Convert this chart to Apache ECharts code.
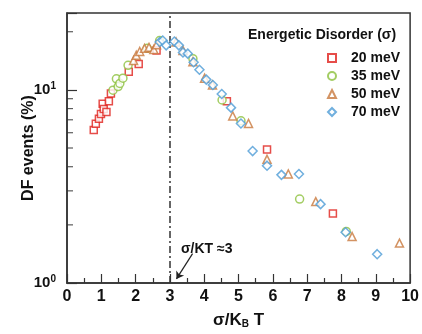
<!DOCTYPE html>
<html><head><meta charset="utf-8">
<script src="https://cdn.jsdelivr.net/npm/echarts@6/dist/echarts.min.js"></script>
<style>html,body{margin:0;padding:0;background:#fff}#c{width:422px;height:334px}</style>
</head><body><div id="c"></div>
<script>
// ---- data (x = σ/kBT, y = DF events %) ----
const seriesNames = ['20 meV', '35 meV', '50 meV', '70 meV'];
const s20 = [[0.78,6.2],[0.84,6.67],[0.93,7.08],[0.99,7.5],[1.04,8.48],[1.07,7.95],[1.15,7.68],[1.22,8.73],[1.28,9.58],[1.80,12.4],[2.09,13.6],[2.61,16.0],[4.66,8.73],[5.83,4.91],[7.75,2.29]];
const s35 = [[1.34,9.96],[1.44,11.4],[1.49,10.4],[1.54,10.8],[1.63,11.5],[1.78,13.4],[2.34,16.4],[2.70,18.0],[3.67,14.5],[4.52,8.86],[5.07,6.92],[6.78,2.72],[8.14,1.85]];
const s50 = [[1.94,14.2],[2.02,15.1],[2.12,15.8],[2.26,16.4],[2.39,16.6],[2.53,16.2],[2.61,17.1],[3.18,17.7],[3.38,16.0],[3.67,14.0],[4.01,11.5],[4.24,10.6],[4.83,7.33],[5.29,6.70],[5.83,4.37],[6.45,3.67],[7.25,2.64],[8.31,1.74],[9.69,1.61]];
const s70 = [[2.70,17.7],[2.79,18.0],[2.89,17.0],[3.13,17.8],[3.26,17.0],[3.38,15.6],[3.52,15.4],[3.69,13.9],[3.86,12.7],[4.06,11.3],[4.25,10.6],[4.51,9.52],[4.78,8.09],[5.07,6.70],[5.41,4.82],[5.83,4.05],[6.25,3.63],[6.76,3.67],[7.39,2.56],[8.12,1.83],[9.04,1.41]];
const yMinorTicks = [2,3,4,5,6,7,8,9,20];
const xRange = [0, 10];
const yRange = [1, 25];
const markX = 3;
const arrowFrom = [3.66, 1.42];
const arrowTo = [3.19, 1.05];

const colors = ['#e0201c', '#8cc03c', '#c8783c', '#4c9bd6'];
const symbols = ['rect', 'circle', 'triangle', 'diamond'];
const sizes = [7, 8, 8, 9];
const FONT = '"Liberation Sans", Arial, sans-serif';

const chart = echarts.init(document.getElementById('c'), null, {renderer: 'canvas'});
const dataSets = [s20, s35, s50, s70];
const scatterSeries = dataSets.map((d, i) => ({
  name: seriesNames[i], type: 'scatter', data: d, symbol: symbols[i], symbolSize: sizes[i],
  itemStyle: {color: '#fff', borderColor: colors[i], borderWidth: 1.5}, z: 3 + i
}));

chart.setOption({
  animation: false,
  grid: {left: 67, right: 10, top: 13, bottom: 44, show: true, borderColor: '#333', borderWidth: 1.5},
  xAxis: {
    type: 'value', min: xRange[0], max: xRange[1], interval: 1,
    axisLine: {onZero: false, lineStyle: {color: '#333', width: 1.5}},
    axisTick: {inside: true, length: 9, lineStyle: {color: '#333', width: 1.2}},
    minorTick: {show: true, splitNumber: 2, length: 5, lineStyle: {color: '#333', width: 1.2}},
    splitLine: {show: false},
    axisLabel: {fontFamily: FONT, fontWeight: 'bold', fontSize: 16, color: '#111', margin: 6},
    name: 'σ/K{sub|B} T', nameLocation: 'middle', nameGap: 28, nameMoveOverlap: false,
    nameTextStyle: {fontFamily: FONT, fontWeight: 'bold', fontSize: 17, color: '#111',
      rich: {sub: {fontFamily: FONT, fontWeight: 'bold', fontSize: 10, color: '#111', verticalAlign: 'bottom', padding: [8,0,0,0]}}}
  },
  yAxis: {
    type: 'log', min: yRange[0], max: yRange[1], logBase: 10,
    axisLine: {onZero: false, lineStyle: {color: '#333', width: 1.5}},
    axisTick: {inside: true, length: 10, lineStyle: {color: '#333', width: 1.2}},
    splitLine: {show: false},
    axisLabel: {
      margin: 11,
      formatter: v => (Math.abs(v - 1) < 1e-6 ? '10{sup|0}' : (Math.abs(v - 10) < 1e-6 ? '10{sup|1}' : '')),
      rich: {sup: {fontFamily: FONT, fontWeight: 'bold', fontSize: 10, color: '#111', verticalAlign: 'top', padding: [0,0,8,0]}},
      fontFamily: FONT, fontWeight: 'bold', fontSize: 15, color: '#111'
    },
    name: 'DF events (%)', nameLocation: 'middle', nameGap: 30, nameMoveOverlap: false,
    nameTextStyle: {fontFamily: FONT, fontWeight: 'bold', fontSize: 16, color: '#111'}
  },
  legend: {
    orient: 'vertical', left: 322, top: 45, itemWidth: 8, itemHeight: 8, itemGap: 2,
    data: seriesNames,
    textStyle: {fontFamily: FONT, fontWeight: 'bold', fontSize: 14, color: '#111', lineHeight: 16, padding: [0,0,0,10]},
    selectedMode: false
  },
  graphic: [
    {type: 'text', left: 248, top: 28, style: {text: 'Energetic Disorder (σ)', font: 'bold 14px ' + FONT, fill: '#111'}},
    {type: 'text', left: 181, top: 242, style: {text: 'σ/KT ≈3', font: 'bold 14px ' + FONT, fill: '#111'}}
  ],
  series: [
    {
      type: 'scatter', data: yMinorTicks.map(v => [xRange[0], v]), symbol: 'rect', symbolSize: [6, 1.2],
      symbolOffset: [3, 0], itemStyle: {color: '#333'}, silent: true, z: 2, legendHoverLink: false,
      markLine: {
        silent: true, symbol: 'none', label: {show: false},
        lineStyle: {color: '#333', width: 1.5, type: [7, 3, 2, 3]},
        data: [{xAxis: markX}]
      }
    },
    {
      type: 'line', data: [], silent: true,
      markLine: {
        silent: true, symbol: ['none', 'arrow'], symbolSize: 7, label: {show: false},
        lineStyle: {color: '#222', width: 1.2, type: 'solid'},
        data: [[{coord: arrowFrom}, {coord: arrowTo}]]
      }
    },
    ...scatterSeries
  ]
});
</script></body></html>
